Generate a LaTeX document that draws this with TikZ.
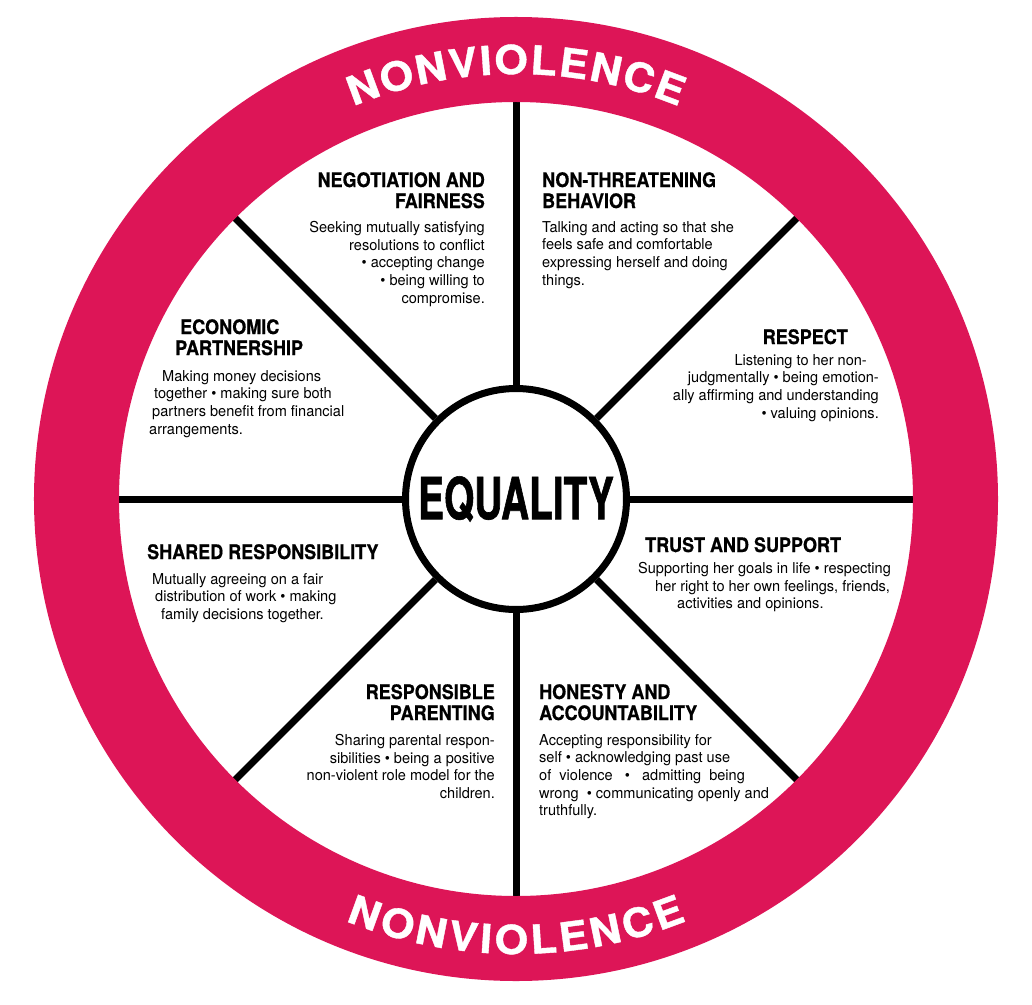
\documentclass[tikz,border=0pt]{standalone}
\usepackage{fontspec}
\setmainfont{TeX Gyre Heros}[FakeStretch=0.97]
\newfontfamily\headfont{TeX Gyre Heros}[FakeStretch=0.9, FakeBold=0.6]
\newfontfamily\eqfont{TeX Gyre Heros}[FakeStretch=0.67, FakeBold=1]
\newfontfamily\ringfont{TeX Gyre Heros}[FakeStretch=1.08, FakeBold=1]
\usetikzlibrary{decorations.text}
\definecolor{ringpink}{RGB}{221,21,87}

\begin{document}
\begin{tikzpicture}[x=1pt, y=1pt,
    heading/.style={inner sep=0pt, font=\headfont\bfseries\fontsize{20}{21}\selectfont},
    body/.style={inner sep=0pt, font=\fontsize{15}{17.7}\selectfont},
    hub/.style={circle, draw=black, fill=white, line width=7pt, minimum size=221pt, inner sep=0pt, font=\eqfont\bfseries\fontsize{58}{58}\selectfont},
    spoke/.style={line width=7pt},
    ringtext/.style={decorate, decoration={text along path, text align=fit to path, text color=white, text={|\ringfont\bfseries\fontsize{40}{40}\selectfont|#1}}}
]

% Page
\path[fill=white, use as bounding box] (-516,-505) rectangle (516,499);

% Hub and spokes
\node[hub] (eq) at (0,0) {EQUALITY};
\foreach \a in {0,45,...,315} {
    \coordinate (rim\a) at (\a:420);
    \draw[spoke] (eq.\a) -- (rim\a);
}

% Outer ring
\fill[ringpink, even odd rule] (0,0) circle (482) (0,0) circle (397);
\path[ringtext=NONVIOLENCE] (112.5:425) arc[start angle=112.5, end angle=67.5, radius=425];
\path[ringtext=NONVIOLENCE] (248:455) arc[start angle=248, end angle=292, radius=455];

% Upper left
\node[heading, anchor=north east, align=right] (negtitle) at (-31,327) {NEGOTIATION AND\\FAIRNESS};
\node[body, anchor=north east, align=right] (negtext) at (-31,278) {Seeking mutually satisfying\\resolutions to conflict\\\textbullet\ accepting change\\\textbullet\ being willing to\\compromise.};

% Upper right
\node[heading, anchor=north west, align=left] (nontitle) at (26,327) {NON-THREATENING\\BEHAVIOR};
\node[body, anchor=north west, align=left] (nontext) at (26,278) {Talking and acting so that she\\feels safe and comfortable\\expressing herself and doing\\things.};

% Left, upper
\node[heading, anchor=north west, align=left] (ecotitle) at (-341,180) {\hspace*{5pt}ECONOMIC\\PARTNERSHIP};
\node[body, anchor=north west, align=left] (ecotext) at (-367,129) {\hspace*{13pt}Making money decisions\\\hspace*{5pt}together \textbullet\ making sure both\\\hspace*{3pt}partners benefit from financial\\arrangements.};

% Right, upper
\node[heading, anchor=north east] (restitle) at (332,170) {RESPECT};
\node[body, anchor=north east, align=right] (restext) at (363,145) {Listening to her non-\hspace*{12pt}\\judgmentally \textbullet\ being emotion-\hspace*{7pt}\\ally affirming and understanding\hspace*{8pt}\\\textbullet\ valuing opinions.};

% Left, lower
\node[heading, anchor=north west] (shatitle) at (-369,-45) {SHARED RESPONSIBILITY};
\node[body, anchor=north west, align=left] (shatext) at (-364,-74) {Mutually agreeing on a fair\\\hspace*{3pt}distribution of work \textbullet\ making\\\hspace*{9pt}family decisions together.};

% Right, lower
\node[heading, anchor=north west] (trutitle) at (129,-38) {TRUST AND SUPPORT};
\node[body, anchor=north west, align=left] (trutext) at (122,-63) {Supporting her goals in life \textbullet\ respecting\\\hspace*{17pt}her right to her own feelings, friends,\\\hspace*{39pt}activities and opinions.};

% Lower left
\node[heading, anchor=north east, align=right] (partitle) at (-21,-185) {RESPONSIBLE\\PARENTING};
\node[body, anchor=north east, align=right] (partext) at (-21,-235) {Sharing parental respon-\\sibilities \textbullet\ being a positive\\non-violent role model for the\\children.};

% Lower right
\node[heading, anchor=north west, align=left] (hontitle) at (23,-185) {HONESTY AND\\ACCOUNTABILITY};
\node[body, anchor=north west, align=left] (hontext) at (23,-235) {Accepting responsibility for\\self \textbullet\ acknowledging past use\\of\ \ violence\ \ \ \textbullet\ \ \ admitting\ \ being\\wrong\ \ \textbullet\ communicating openly and\\truthfully.};

\end{tikzpicture}
\end{document}
